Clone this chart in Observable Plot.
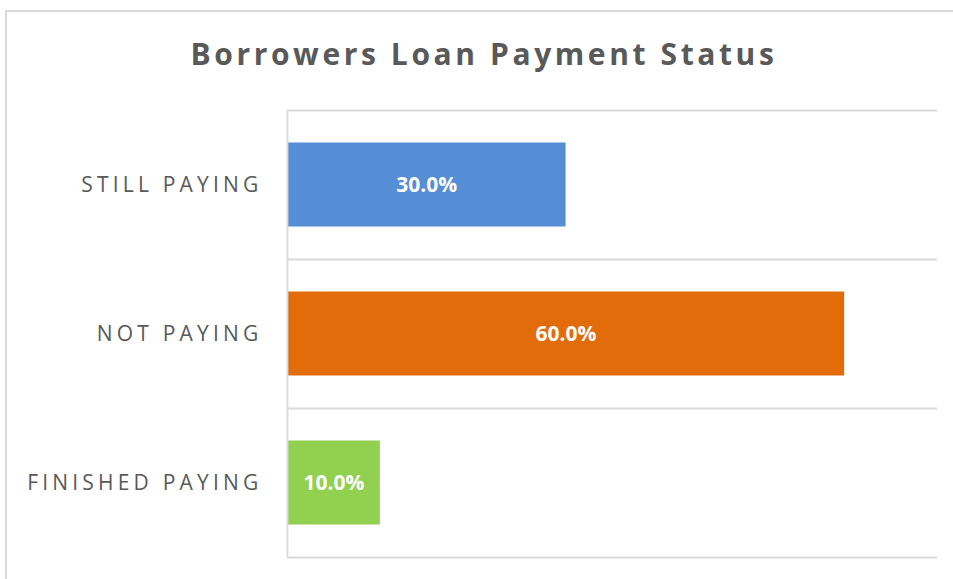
<!DOCTYPE html>
<html>
<head>
<meta charset="utf-8">
<script src="https://cdn.jsdelivr.net/npm/d3@7"></script>
<script src="https://cdn.jsdelivr.net/npm/@observablehq/plot@0.6"></script>
<style>
  body { margin: 0; background: #fff; }
  #chart { position: relative; width: 953px; height: 579px; overflow: hidden; background: #fff; }
  #frame { position: absolute; left: 5px; top: 10px; width: 958px; height: 620px;
           border: 2px solid #d9d9d9; box-sizing: border-box; pointer-events: none; }
  #title { position: relative; margin-left: 5px; width: 958px; height: 100px; box-sizing: border-box;
           padding-top: 36px; text-align: center; font-family: "Open Sans", sans-serif;
           font-weight: 700; font-size: 30px; line-height: 36px; letter-spacing: 3.6px; color: #595959; }
  #plot { position: relative; }
  #plot svg [aria-label^="y-axis"] text { letter-spacing: 4.2px; }
</style>
</head>
<body>
<div id="chart">
  <div id="frame"></div>
  <div id="title">Borrowers Loan Payment Status</div>
  <div id="plot"></div>
</div>
<script>
const categories = ["STILL PAYING", "NOT PAYING", "FINISHED PAYING"];
const values = [0.30, 0.60, 0.10];
const colors = ["#558ED5", "#E36C0A", "#92D050"];

const data = categories.map((c, i) => ({category: c, value: values[i]}));

const H = 479, mTop = 10, mBottom = 22;
const half = (H - mTop - mBottom) / categories.length / 2;

const chart = Plot.plot({
  width: 953,
  height: H,
  marginTop: mTop,
  marginBottom: mBottom,
  marginLeft: 287,
  marginRight: 16,
  x: {domain: [0, 0.7], axis: null},
  y: {domain: categories, padding: 0, tickSize: 0, tickPadding: 25, label: null},
  color: {domain: categories, range: colors},
  style: {fontFamily: "Open Sans", fontSize: "21px", color: "#595959", background: "transparent", overflow: "visible"},
  marks: [
    Plot.ruleY(categories, {y: d => d, dy: -half, stroke: "#d9d9d9", strokeWidth: 1.8}),
    Plot.ruleY(categories.slice(-1), {y: d => d, dy: half, stroke: "#d9d9d9", strokeWidth: 1.8}),
    Plot.barX(data, {x: "value", y: "category", fill: "category", insetTop: 32.5, insetBottom: 32.5}),
    Plot.ruleX([0], {stroke: "#d9d9d9", strokeWidth: 1.8}),
    Plot.text(data, {
      x: d => d.value / 2, y: "category",
      text: d => (d.value * 100).toFixed(1) + "%",
      fill: "white", fontWeight: "bold", fontSize: 21
    })
  ]
});
document.getElementById("plot").appendChild(chart);
</script>
</body>
</html>
